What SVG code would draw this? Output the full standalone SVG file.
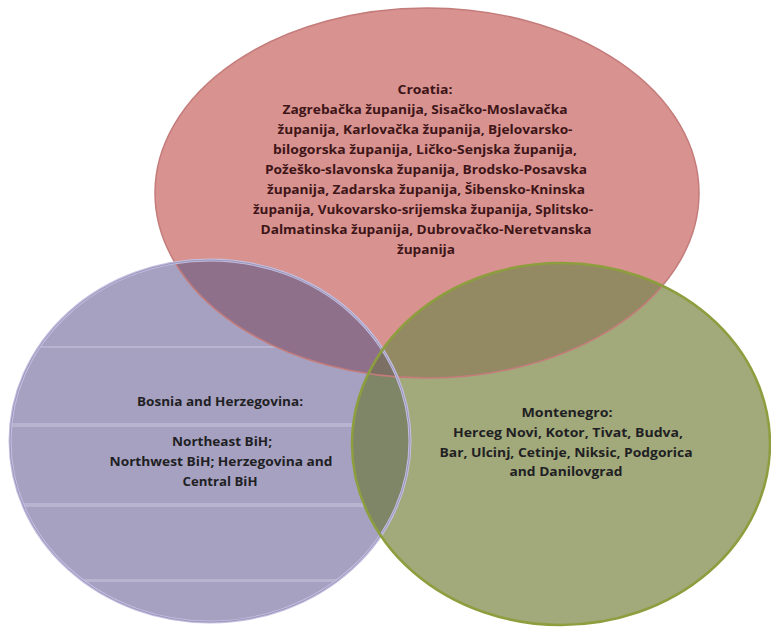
<svg xmlns="http://www.w3.org/2000/svg" width="771" height="628" viewBox="0 0 771 628">
  <style>
    .lbl { font-family: "Open Sans", "Liberation Sans", "DejaVu Sans", sans-serif; font-weight: bold; font-size: 13px; text-anchor: middle; }
    .hr { fill: #3e1518; }
    .dk { fill: #1f1f24; }
    .stripe { fill: #bdb9d3; opacity: 0.75; }
  </style>
  <defs>
    <ellipse id="shapeHr" cx="427" cy="193" rx="272" ry="185"/>
    <ellipse id="shapeBa" cx="210" cy="441" rx="200" ry="181"/>
    <ellipse id="shapeMe" cx="561" cy="444" rx="209" ry="181"/>
    <clipPath id="clipHr"><use href="#shapeHr"/></clipPath>
    <clipPath id="clipBa"><use href="#shapeBa"/></clipPath>
  </defs>

  <rect width="771" height="628" fill="#ffffff"/>

  <!-- Croatia -->
  <g id="croatia">
    <use href="#shapeHr" fill="#d8928f"/>
  </g>

  <!-- Bosnia and Herzegovina -->
  <g id="bosnia">
    <use href="#shapeBa" fill="#a6a1c1"/>
    <g clip-path="url(#clipBa)">
      <rect class="stripe" x="0" y="346" width="420" height="2"/>
      <rect class="stripe" x="0" y="423" width="420" height="4"/>
      <rect class="stripe" x="0" y="503" width="420" height="4"/>
      <rect class="stripe" x="0" y="579" width="420" height="3"/>
    </g>
    <g clip-path="url(#clipHr)">
      <use href="#shapeBa" fill="#8f708b"/>
    </g>
  </g>

  <!-- Montenegro -->
  <g id="montenegro">
    <use href="#shapeMe" fill="#a2a97a"/>
    <g clip-path="url(#clipHr)">
      <use href="#shapeMe" fill="#938a63"/>
    </g>
    <g clip-path="url(#clipBa)">
      <use href="#shapeMe" fill="#7f8668"/>
      <g clip-path="url(#clipHr)">
        <use href="#shapeMe" fill="#7b7063"/>
      </g>
    </g>
  </g>

  <!-- outlines -->
  <g id="outlines" fill="none">
    <use href="#shapeHr" stroke="#c47c7b" stroke-width="1.5"/>
    <use href="#shapeBa" stroke="#c3bfe0" stroke-width="3"/>
    <use href="#shapeBa" stroke="#9c97bb" stroke-width="1"/>
    <use href="#shapeMe" stroke="#8d9e3e" stroke-width="2.5"/>
  </g>

  <!-- labels -->
  <g id="croatia-label" class="lbl hr">
    <text x="425" y="94" textLength="55" lengthAdjust="spacingAndGlyphs">Croatia:</text>
    <text x="425" y="114" textLength="285" lengthAdjust="spacingAndGlyphs">Zagrebačka županija, Sisačko-Moslavačka</text>
    <text x="425" y="134" textLength="295" lengthAdjust="spacingAndGlyphs">županija, Karlovačka županija, Bjelovarsko-</text>
    <text x="425" y="154" textLength="304" lengthAdjust="spacingAndGlyphs">bilogorska županija, Ličko-Senjska županija,</text>
    <text x="426" y="174" textLength="322" lengthAdjust="spacingAndGlyphs">Požeško-slavonska županija, Brodsko-Posavska</text>
    <text x="426" y="194" textLength="318" lengthAdjust="spacingAndGlyphs">županija, Zadarska županija, Šibensko-Kninska</text>
    <text x="423" y="214" textLength="340" lengthAdjust="spacingAndGlyphs">županija, Vukovarsko-srijemska županija, Splitsko-</text>
    <text x="426" y="234" textLength="331" lengthAdjust="spacingAndGlyphs">Dalmatinska županija, Dubrovačko-Neretvanska</text>
    <text x="426" y="254" textLength="58" lengthAdjust="spacingAndGlyphs">županija</text>
  </g>

  <g id="bosnia-label" class="lbl dk">
    <text x="220" y="406" textLength="166" lengthAdjust="spacingAndGlyphs">Bosnia and Herzegovina:</text>
    <text x="222" y="446" textLength="100" lengthAdjust="spacingAndGlyphs">Northeast BiH;</text>
    <text x="221" y="466" textLength="223" lengthAdjust="spacingAndGlyphs">Northwest BiH; Herzegovina and</text>
    <text x="220" y="486" textLength="75" lengthAdjust="spacingAndGlyphs">Central BiH</text>
  </g>

  <g id="montenegro-label" class="lbl dk">
    <text x="567" y="417" textLength="91" lengthAdjust="spacingAndGlyphs">Montenegro:</text>
    <text x="568" y="437" textLength="230" lengthAdjust="spacingAndGlyphs">Herceg Novi, Kotor, Tivat, Budva,</text>
    <text x="566" y="457" textLength="253" lengthAdjust="spacingAndGlyphs">Bar, Ulcinj, Cetinje, Niksic, Podgorica</text>
    <text x="566" y="476" textLength="113" lengthAdjust="spacingAndGlyphs">and Danilovgrad</text>
  </g>
</svg>
